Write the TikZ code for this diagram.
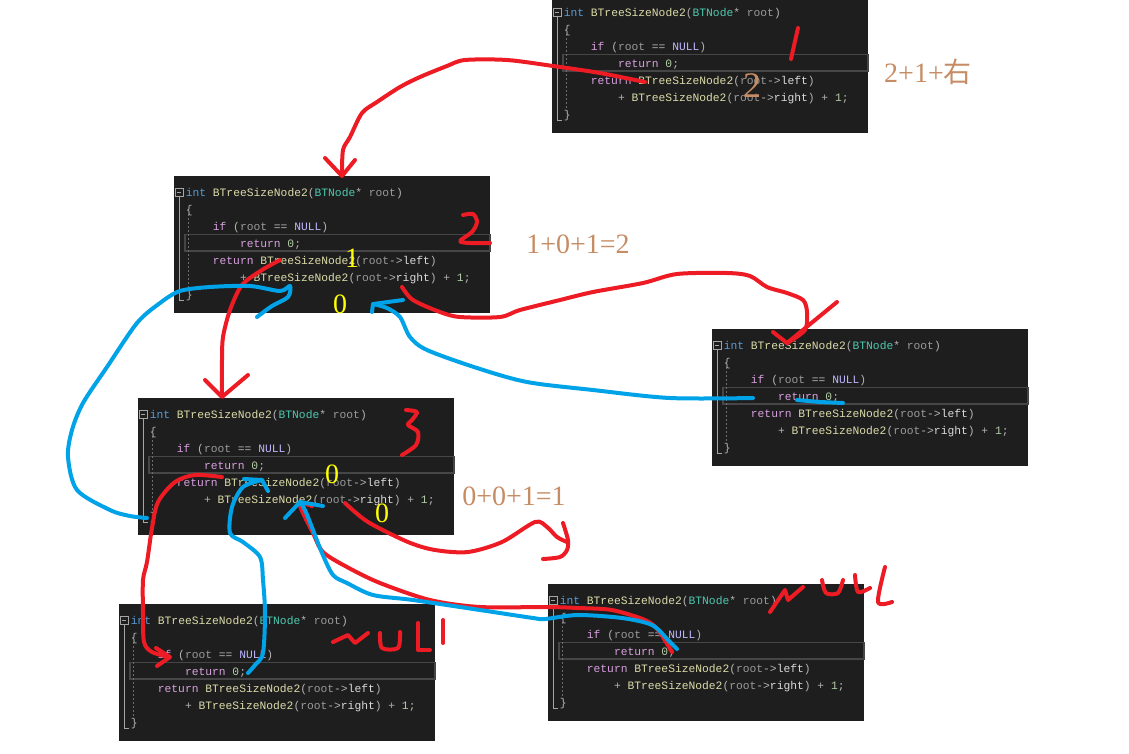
\documentclass[tikz,border=0pt]{standalone}
\usepackage{fontspec}
\setmainfont{Liberation Serif}
\setmonofont{Liberation Mono}
\newfontfamily\cjkfont{Noto Sans CJK SC}
\usetikzlibrary{positioning}

\definecolor{winbg}{HTML}{1E1E1E}
\definecolor{kwblue}{HTML}{569CD6}
\definecolor{fncream}{HTML}{DCDCAA}
\definecolor{typeteal}{HTML}{4EC9B0}
\definecolor{paramgray}{HTML}{9A9A9A}
\definecolor{ctlpink}{HTML}{D8A0DF}
\definecolor{macrolav}{HTML}{BEB7FF}
\definecolor{numgreen}{HTML}{B5CEA8}
\definecolor{punctgray}{HTML}{B4B4B4}
\definecolor{plainwhite}{HTML}{DADADA}
\definecolor{curgray}{HTML}{464646}
\definecolor{foldgray}{HTML}{A5A5A5}
\definecolor{guidegray}{HTML}{6E6E6E}
\definecolor{inkred}{HTML}{ED1C24}
\definecolor{inkblue}{HTML}{00A2E8}
\definecolor{sumbrown}{RGB}{198,140,100}
\definecolor{numyellow}{HTML}{FFFF00}

\newcommand{\tkw}[1]{\textcolor{kwblue}{#1}}
\newcommand{\tfn}[1]{\textcolor{fncream}{#1}}
\newcommand{\tty}[1]{\textcolor{typeteal}{#1}}
\newcommand{\tpa}[1]{\textcolor{paramgray}{#1}}
\newcommand{\tct}[1]{\textcolor{ctlpink}{#1}}
\newcommand{\tmc}[1]{\textcolor{macrolav}{#1}}
\newcommand{\tnm}[1]{\textcolor{numgreen}{#1}}
\newcommand{\tpu}[1]{\textcolor{punctgray}{#1}}
\newcommand{\tpl}[1]{\textcolor{plainwhite}{#1}}

\tikzset{
  codewin/.style={fill=winbg, draw=none, minimum width=316pt, minimum height=137pt, inner sep=0pt, anchor=north west},
  codeline/.style={anchor=base west, inner sep=0pt, font=\ttfamily\fontsize{11.3}{13}\selectfont},
  curline/.style={draw=curgray, line width=1.6pt},
  foldmark/.style={draw=foldgray, line width=0.8pt},
  indentguide/.style={draw=guidegray, line width=0.8pt, dash pattern=on 2pt off 2pt},
  redink/.style={draw=inkred, line width=4pt, line cap=round, line join=round},
  blueink/.style={draw=inkblue, line width=4pt, line cap=round, line join=round},
  sumtext/.style={anchor=base, inner sep=0pt, text=sumbrown, font=\fontsize{28}{30}\selectfont},
  yellownum/.style={anchor=base, inner sep=0pt, text=numyellow, font=\fontsize{28}{30}\selectfont},
}

\newcommand{\codebox}[3]{%
  \node[codewin] (#1) at (#2,#3) {};
  \begin{scope}[shift={(#2,#3)}]
    \draw[curline] (11,58.5) rectangle (316,75);
    \draw[foldmark] (1,12) rectangle (9,20) (3,16) -- (7,16) (5,20) -- (5,124) -- (10,124);
    \draw[indentguide] (14,38) -- (14,112);
    \node[codeline] (#1-l1) at (11.6,20) {\tkw{int} \tfn{BTreeSizeNode2}\tpu{(}\tty{BTNode}\tpu{*} \tpa{root}\tpu{)}};
    \node[codeline] (#1-l2) at (11.6,37) {\tpu{\{}};
    \node[codeline] (#1-l3) at (38.7,54) {\tct{if} \tpu{(}\tpa{root} \tpu{==} \tmc{NULL}\tpu{)}};
    \node[codeline] (#1-l4) at (65.8,71) {\tct{return} \tnm{0}\tpu{;}};
    \node[codeline] (#1-l5) at (38.7,88) {\tct{return} \tfn{BTreeSizeNode2}\tpu{(}\tpa{root}\tpu{->}\tpl{left}\tpu{)}};
    \node[codeline] (#1-l6) at (65.8,105) {\tpu{+} \tfn{BTreeSizeNode2}\tpu{(}\tpa{root}\tpu{->}\tpl{right}\tpu{)} \tpu{+} \tnm{1}\tpu{;}};
    \node[codeline] (#1-l7) at (11.6,122) {\tpu{\}}};
  \end{scope}
}

\begin{document}
\begin{tikzpicture}[x=1pt,y=-1pt]
  \useasboundingbox (0,0) rectangle (1129,753);
  \clip (0,0) rectangle (1129,753);

  \codebox{top}{552}{-4}
  \codebox{lvla}{174}{176}
  \codebox{rgta}{712}{329}
  \codebox{lvlb}{138}{398}
  \codebox{nulla}{119}{604}
  \codebox{nullb}{548}{584}

  \draw[redink] plot[smooth,tension=0.5] coordinates {(645,82) (600,73) (553,66) (507,60) (465,60) (447,66) (420,77) (400,87) (377,102) (362,113) (350,137) (343,150) (342,175)};
  \draw[redink] (325,158) -- (342,176) -- (355,160);
  \draw[redink] (798,28) -- (791,59);

  \draw[redink] plot[smooth,tension=0.5] coordinates {(280,260) (262,270) (242,285) (230,310) (223,337) (222,360) (222,396)};
  \draw[redink] (205,380) -- (222,397) -- (248,375);

  \draw[redink] plot[smooth,tension=0.5] coordinates {(402,287) (413,300) (440,312) (460,317) (500,317) (520,310) (560,300) (593,292) (643,283) (677,274) (727,273) (750,276) (767,287) (787,293) (803,300) (807,312) (805,330) (787,343)};
  \draw[redink] (773,332) -- (787,343) -- (837,302);

  \draw[redink] plot[smooth,tension=0.5] coordinates {(222,477) (195,475) (175,482) (158,502) (152,528) (147,562) (143,580) (143,613) (144,642) (152,652) (169,657)};
  \draw[redink] (156,648) -- (170,657) -- (157,666);

  \draw[redink] plot[smooth,tension=0.5] coordinates {(345,503) (368,522) (408,542) (435,550) (468,552) (502,542) (535,522) (547,527) (557,537) (567,542)};
  \draw[redink] plot[smooth,tension=0.5] coordinates {(563,523) (568,540) (567,550) (560,557) (543,559)};

  \draw[redink] plot[smooth,tension=0.5] coordinates {(672,652) (658,630) (645,620) (612,610) (578,608) (547,607) (480,607) (430,600) (380,583) (347,567) (323,552) (313,533) (303,513) (300,503) (312,506)};

  \draw[blueink] plot[smooth,tension=0.5] coordinates {(677,649) (668,640) (652,625) (622,618) (578,615) (545,619) (533,618) (480,610) (413,600) (373,595) (347,583) (333,575) (322,553) (313,530) (305,510) (300,502)};
  \draw[blueink] (285,518) -- (300,502) -- (323,506);

  \draw[blueink] plot[smooth,tension=0.5] coordinates {(248,673) (255,665) (263,653) (265,613) (263,580) (260,557) (243,542) (230,533) (232,507) (243,487) (262,480)};
  \draw[blueink] (244,479) -- (262,480) -- (268,491);

  \draw[blueink] plot[smooth,tension=0.5] coordinates {(147,518) (130,516) (110,510) (77,490) (68,457) (72,430) (83,403) (107,367) (137,323) (160,303) (180,291) (210,287) (250,286) (280,291) (290,286) (288,297) (272,306) (257,317)};

  \draw[blueink] plot[smooth,tension=0.5] coordinates {(753,398) (670,398) (593,390) (527,382) (477,368) (427,350) (410,337) (400,317) (387,308) (373,304)};
  \draw[blueink] (403,300) -- (373,304) -- (372,312);
  \draw[blueink] (797,400) -- (820,402) -- (843,403);

  \draw[redink] plot[smooth,tension=0.5] coordinates {(463,215) (473,214) (477,222) (472,232) (460,241) (470,243) (490,243)};
  \draw[redink] plot[smooth,tension=0.5] coordinates {(406,410) (417,412) (412,420) (408,425) (418,432) (416,445) (402,455)};

  \draw[redink] (333,642) -- (348,635) -- (355,643) -- (368,633);
  \draw[redink] plot[smooth,tension=0.5] coordinates {(380,633) (382,648) (398,648) (400,632)};
  \draw[redink] (418,623) -- (418,650) -- (430,650);
  \draw[redink] (443,620) -- (443,643);

  \draw[redink] (770,612) -- (785,590) -- (788,600) -- (803,587);
  \draw[redink] plot[smooth,tension=0.5] coordinates {(822,580) (826,593) (838,593) (843,580)};
  \draw[redink] plot[smooth,tension=0.5] coordinates {(855,575) (858,592) (870,588)};
  \draw[redink] plot[smooth,tension=0.5] coordinates {(885,567) (878,602) (892,602)};

  \node[sumtext] (sumtop) at (928,82) {2+1+{\cjkfont 右}};
  \node[sumtext] (suma) at (578,253) {1+0+1=2};
  \node[sumtext] (sumb) at (514,505) {0+0+1=1};
  \node[sumtext, font=\fontsize{36}{38}\selectfont] (ordtop) at (752,97) {2};

  \node[yellownum] (ya) at (352,267) {1};
  \node[yellownum] (yb) at (340,313) {0};
  \node[yellownum] (yc) at (332,483) {0};
  \node[yellownum] (yd) at (382,522) {0};
\end{tikzpicture}
\end{document}
